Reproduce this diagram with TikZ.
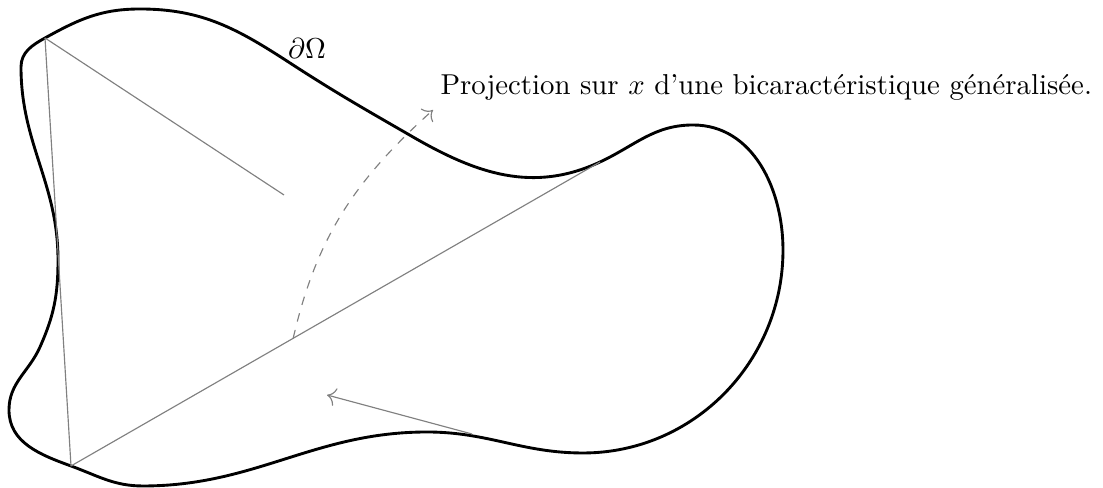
\documentclass[tikz,border=0pt]{standalone}
\usetikzlibrary{calc,arrows.meta}
\begin{document}
\begin{tikzpicture}[x=0.3476pt,y=0.3476pt,
  bord/.style={line width=1pt,black},
  chord/.style={gray,line width=0.4pt},
  proj/.style={gray,line width=0.4pt,dashed,-{To[length=3pt]}},
  lab/.style={inner sep=0pt}]
\useasboundingbox (0,0) rectangle (1103,488);
% named points on the boundary
\coordinate (A) at (45,450);
\coordinate (T) at (140,479);
\coordinate (H) at (290,425);
\coordinate (Q) at (413,351);
\coordinate (C) at (600,326);
\coordinate (P) at (693,363);
\coordinate (R) at (783,238);
\coordinate (S) at (583,35);
\coordinate (L) at (427,56);
\coordinate (V) at (143,2);
\coordinate (B) at (71,22);
\coordinate (W) at (9,78);
\coordinate (X) at (40,141);
\coordinate (K) at (58,228);
\coordinate (U) at (21,421);
% boundary
\draw[bord] (A) to[out=29,in=180] (T) to[out=0,in=147] (H)
  to[out=-33,in=150] (Q)
  to[out=-30,in=205] (C) to[out=25,in=180] (P) to[out=0,in=90] (R)
  to[out=-90,in=0] (S) to[out=180,in=0] (L) to[out=180,in=0] (V)
  to[out=180,in=-20] (B) to[out=160,in=-90] (W) to[out=90,in=246] (X)
  to[out=66,in=-90] (K) to[out=90,in=-90] (U) to[out=90,in=209] cycle;
% other points
\coordinate (M) at (284,293);
\coordinate (D) at ($(B)!0.42!(C)$);
\coordinate (E) at (433,378);
\coordinate (F) at (472,54);
\coordinate (G) at (327,93);
\draw[chord] (A) -- (B);
\draw[chord] (A) -- (M);
\draw[chord] (B) -- (C);
\draw[proj] (D) to[out=77,in=222] (E);
\draw[chord,-{To[length=3pt]}] (F) -- (G);
\node[lab,anchor=base] (om) at (307,429) {$\partial\Omega$};
\node[lab,anchor=base west] (txt) at (440,393) {Projection sur $x$ d'une bicaractéristique généralisée.};
\end{tikzpicture}
\end{document}
